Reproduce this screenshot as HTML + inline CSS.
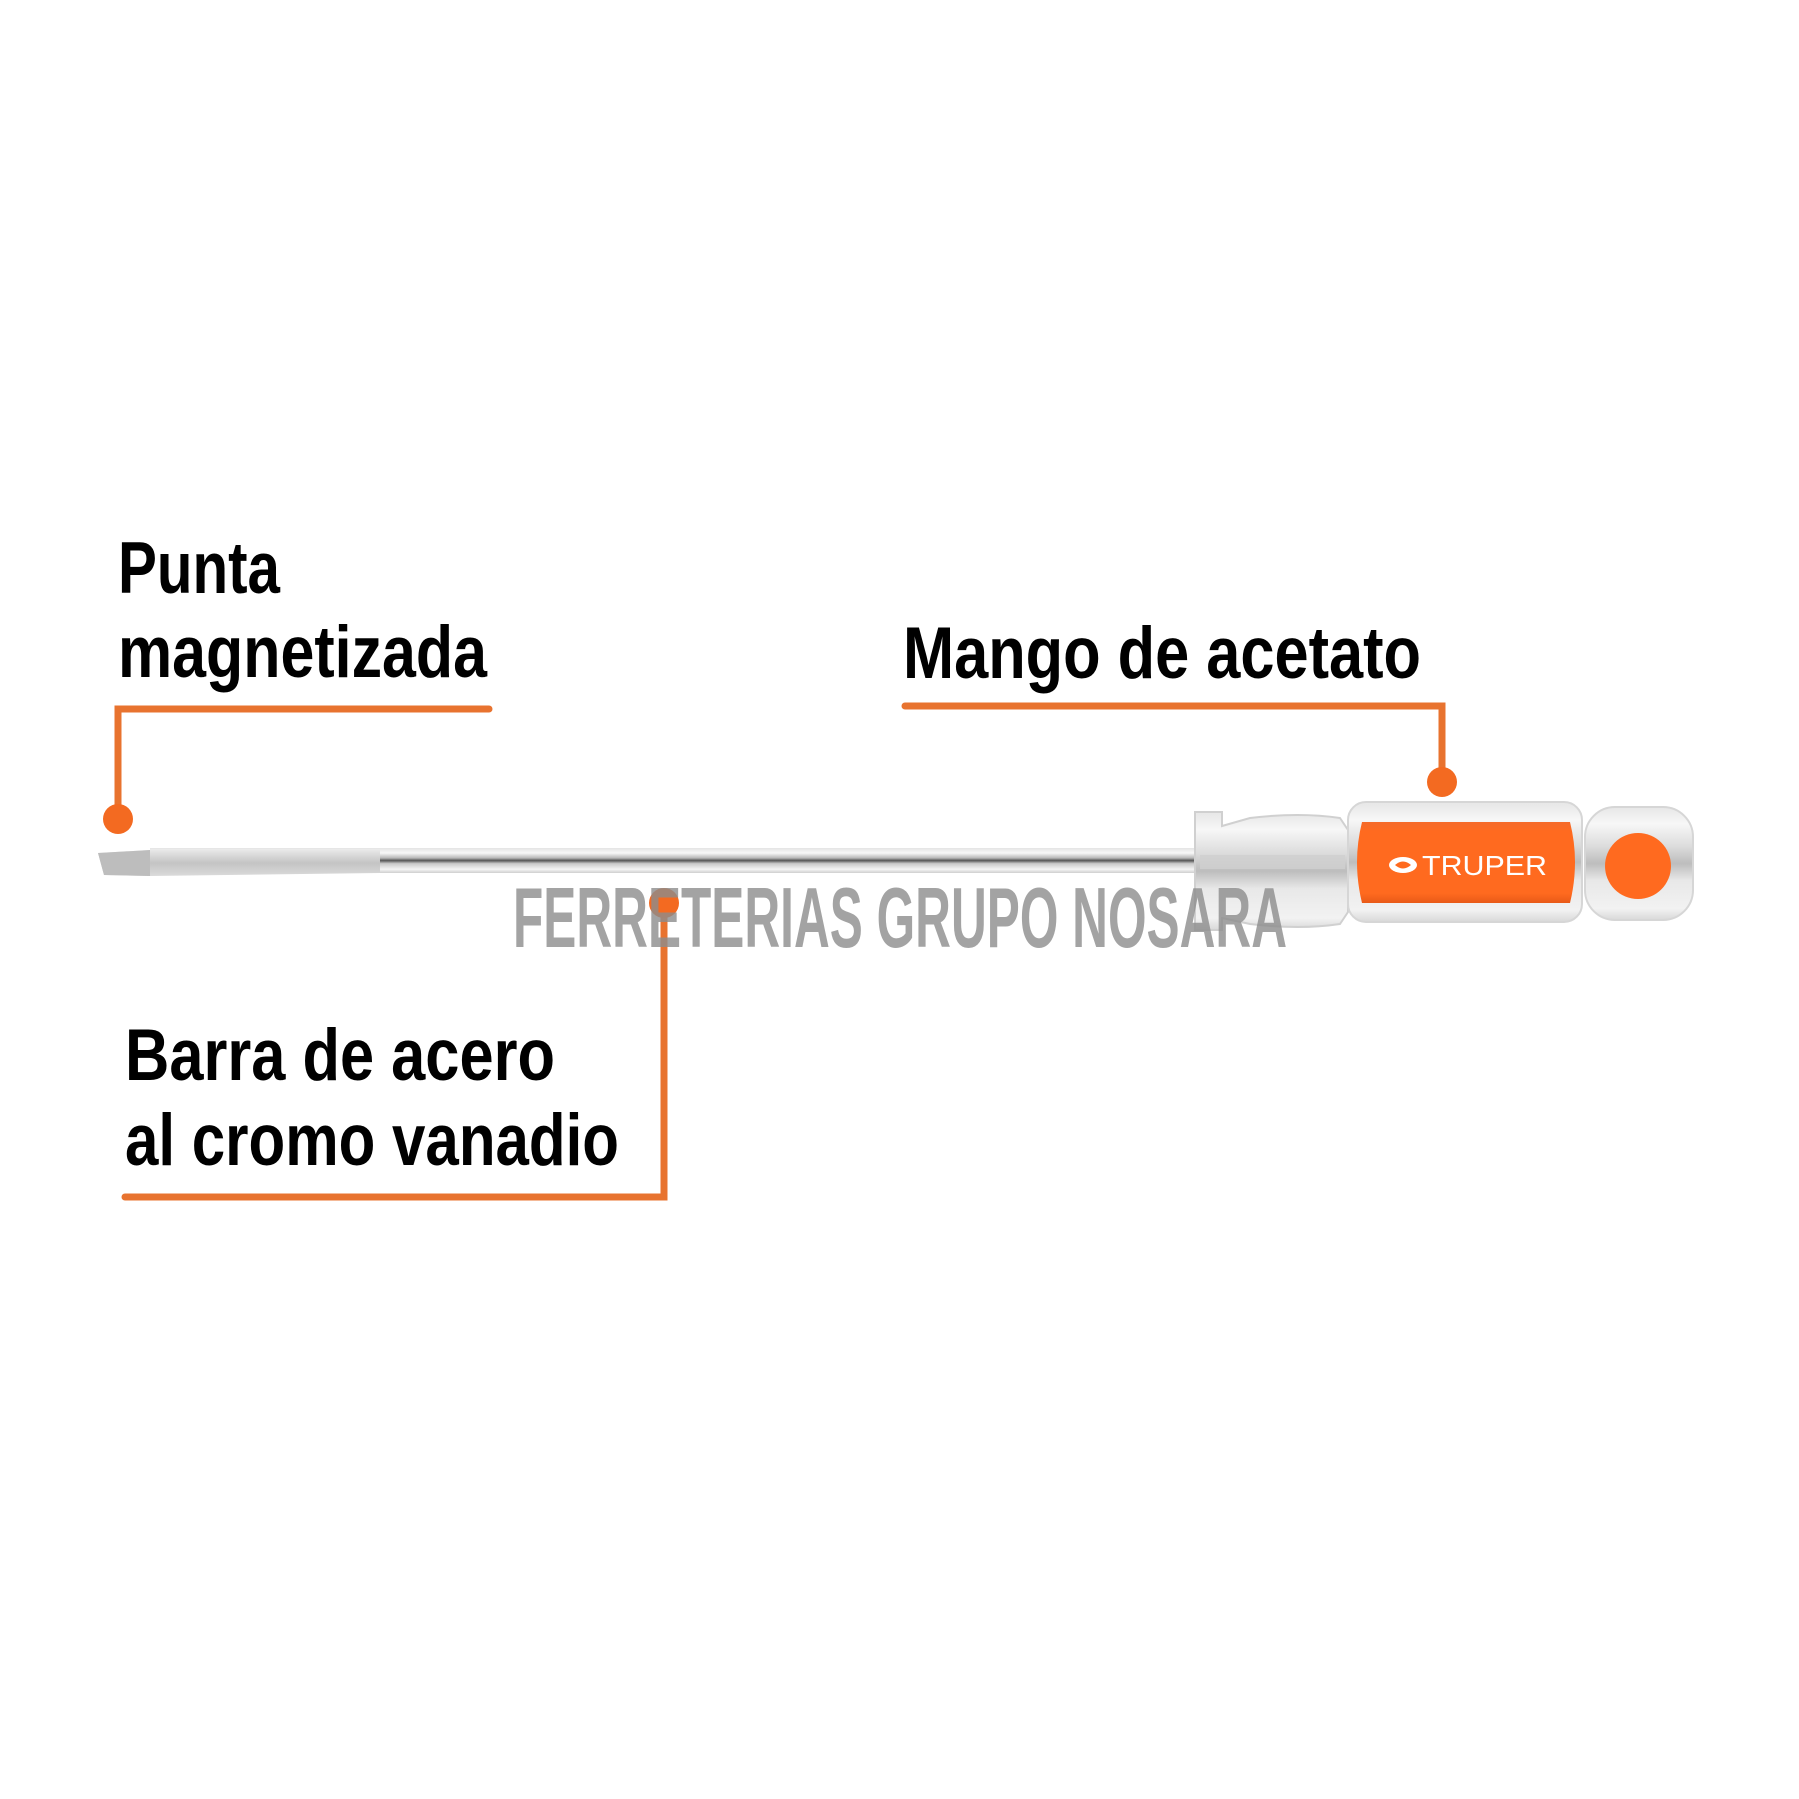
<!DOCTYPE html>
<html><head><meta charset="utf-8"><style>
html,body{margin:0;padding:0;background:#fff;}
svg{display:block;}
text{font-family:"Liberation Sans",sans-serif;font-weight:bold;}
</style></head><body>
<svg width="1799" height="1799" viewBox="0 0 1799 1799" xmlns="http://www.w3.org/2000/svg">
<defs>
<linearGradient id="sh" x1="0" y1="0" x2="0" y2="1">
<stop offset="0" stop-color="#e4e4e4"/><stop offset="0.2" stop-color="#f8f8f8"/><stop offset="0.4" stop-color="#b8b8b8"/><stop offset="0.5" stop-color="#555"/><stop offset="0.62" stop-color="#c8c8c8"/><stop offset="0.85" stop-color="#f4f4f4"/><stop offset="1" stop-color="#cfcfcf"/>
</linearGradient>
<linearGradient id="tip" x1="0" y1="0" x2="0" y2="1">
<stop offset="0" stop-color="#e8e8e8"/><stop offset="0.5" stop-color="#c4c4c4"/><stop offset="1" stop-color="#dadada"/>
</linearGradient>
<linearGradient id="clear" x1="0" y1="0" x2="0" y2="1">
<stop offset="0" stop-color="#e6e6e6"/><stop offset="0.15" stop-color="#f7f7f7"/><stop offset="0.35" stop-color="#dcdcdc"/><stop offset="0.5" stop-color="#bdbdbd"/><stop offset="0.65" stop-color="#e8e8e8"/><stop offset="0.9" stop-color="#f2f2f2"/><stop offset="1" stop-color="#d8d8d8"/>
</linearGradient>
<linearGradient id="org" x1="0" y1="0" x2="0" y2="1">
<stop offset="0" stop-color="#f46a2a"/><stop offset="0.12" stop-color="#ff6a1f"/><stop offset="0.88" stop-color="#ff6a1f"/><stop offset="1" stop-color="#e85a18"/>
</linearGradient>
</defs>

<!-- Labels -->
<g fill="#000">
<text x="118" y="593" font-size="73" textLength="162" lengthAdjust="spacingAndGlyphs">Punta</text>
<text x="118" y="677" font-size="73" textLength="369" lengthAdjust="spacingAndGlyphs">magnetizada</text>
<text x="903" y="678" font-size="73" textLength="518" lengthAdjust="spacingAndGlyphs">Mango de acetato</text>
<text x="125" y="1080" font-size="73" textLength="430" lengthAdjust="spacingAndGlyphs">Barra de acero</text>
<text x="125" y="1165" font-size="73" textLength="494" lengthAdjust="spacingAndGlyphs">al cromo vanadio</text>
</g>

<!-- Callout lines -->
<g stroke="#e8732f" stroke-width="7" fill="none" stroke-linecap="round" stroke-linejoin="miter">
<polyline points="489,709 118,709 118,815"/>
<polyline points="905,706 1442,706 1442,780"/>
<polyline points="125,1197 664,1197 664,905"/>
</g>
<g fill="#f36a21">
<circle cx="118" cy="819" r="15"/>
<circle cx="1442" cy="782" r="15"/>
<circle cx="664" cy="903" r="15"/>
</g>

<!-- Shaft -->
<rect x="150" y="848" width="1060" height="25" fill="url(#sh)"/>
<path d="M98,853 L150,850 L380,850 L380,873 L150,876 L104,875 Z" fill="url(#tip)"/>
<path d="M98,853 L150,850 L150,876 L104,875 Z" fill="#bdbdbd"/>

<!-- Ferrule (clear) -->
<path d="M1195,812 L1222,812 L1222,826 L1250,818 Q1300,812 1340,818 L1348,830 L1348,912 L1340,924 Q1300,930 1250,924 L1222,918 L1222,930 L1195,930 Z" fill="url(#clear)" stroke="#d0d0d0" stroke-width="2"/>
<rect x="1200" y="855" width="145" height="14" fill="#cfcfcf" opacity="0.8"/>

<!-- Main handle -->
<rect x="1348" y="802" width="234" height="120" rx="18" fill="url(#clear)" stroke="#d6d6d6" stroke-width="2"/>
<path d="M1362,822 L1570,822 Q1580,862 1570,903 L1362,903 Q1352,862 1362,822 Z" fill="url(#org)"/>
<text x="1422" y="875" font-size="28" fill="#fff" font-weight="normal" textLength="125" lengthAdjust="spacingAndGlyphs" style="font-weight:normal">TRUPER</text>
<g fill="#fff">
<ellipse cx="1403" cy="865" rx="14" ry="8"/>
</g>
<path d="M1395,865 Q1403,858 1411,865 Q1403,872 1395,865 Z" fill="#ff6a1f"/>

<!-- End knob -->
<rect x="1585" y="807" width="108" height="113" rx="30" fill="url(#clear)" stroke="#d6d6d6" stroke-width="2"/>
<circle cx="1638" cy="866" r="33" fill="#ff6a1f"/>

<!-- Watermark -->
<text x="513" y="947" font-size="85" fill="#8c8c8c" fill-opacity="0.8" textLength="774" lengthAdjust="spacingAndGlyphs">FERRETERIAS GRUPO NOSARA</text>
</svg>
</body></html>
